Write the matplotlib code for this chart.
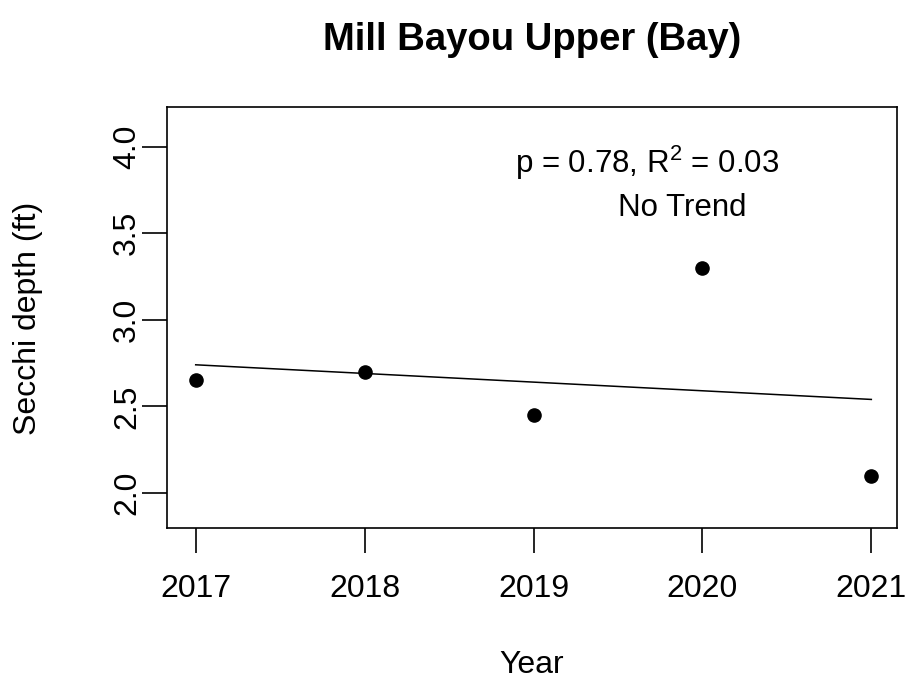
import numpy as np
import matplotlib
matplotlib.use("Agg")
import matplotlib.pyplot as plt

# Secchi depth by year, Mill Bayou Upper (Bay)
years = [2017, 2018, 2019, 2020, 2021]
secchi_ft = [2.65, 2.70, 2.45, 3.30, 2.10]
x_ticks = [2017, 2018, 2019, 2020, 2021]
y_ticks = [2.0, 2.5, 3.0, 3.5, 4.0]
stats_label = "p = 0.78, R$^2$ = 0.03"
trend_label = "No Trend"

plt.rcParams['font.family'] = ['Liberation Sans', 'DejaVu Sans']
plt.rcParams['mathtext.fontset'] = 'custom'
plt.rcParams['mathtext.rm'] = 'Liberation Sans'

fig = plt.figure(figsize=(9.07, 6.82), dpi=100)
ax = fig.add_axes([0.1841, 0.2254, 0.8045, 0.6173])

ax.scatter(years, secchi_ft, s=90, color='black', zorder=3)

# least squares trend line
slope, intercept = np.polyfit(years, secchi_ft, 1)
xs = np.array([years[0], years[-1]])
ax.plot(xs, slope * xs + intercept, color='black', lw=1.1)

ax.set_xlim(2016.83, 2021.15)
ax.set_ylim(1.796, 4.227)
ax.set_xticks(x_ticks)
ax.set_xticklabels([str(y) for y in x_ticks])
ax.set_yticks(y_ticks)
ax.set_yticklabels([f"{v:.1f}" for v in y_ticks], rotation=90, va='center')
ax.tick_params(axis='both', labelsize=23, length=18, width=1.2, color='black')
ax.tick_params(axis='x', pad=15)
ax.tick_params(axis='y', pad=0)
for s in ax.spines.values():
    s.set_linewidth(1.2)

ax.text(2019.67, 3.906, stats_label, ha='center', va='center', fontsize=22.5)
ax.text(2019.88, 3.646, trend_label, ha='center', va='center', fontsize=22.5)

fig.text(0.5865, 1 - 40 / 682, "Mill Bayou Upper (Bay)", ha='center', va='center',
         fontsize=27.5, fontweight='bold')
fig.text(0.5865, 1 - 665 / 682, "Year", ha='center', va='center', fontsize=23)
fig.text(28 / 907, 1 - 318 / 682, "Secchi depth (ft)", ha='center', va='center',
         rotation=90, fontsize=23)

fig.savefig("out.png", dpi=100)
